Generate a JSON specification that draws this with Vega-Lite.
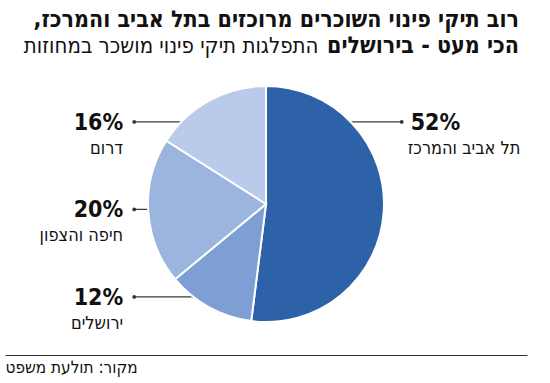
{
  "$schema": "https://vega.github.io/schema/vega-lite/v6.json",
  "autosize": "none",
  "width": 522,
  "height": 280,
  "padding": {"left": 5, "top": 64, "right": 23, "bottom": 39},
  "background": "white",
  "config": {"view": {"stroke": null}, "font": "DejaVu Sans Condensed"},
  "title": {
    "text": ["רוב תיקי פינוי השוכרים מרוכזים בתל אביב והמרכז,\u200f", "הכי מעט - בירושלים"],
    "anchor": "end",
    "frame": "group",
    "font": "DejaVu Sans Condensed",
    "fontSize": 23,
    "fontWeight": "bold",
    "color": "#111111",
    "lineHeight": 26,
    "offset": -24,
    "dx": -8
  },
  "data": {
    "values": [
      {"region": "תל אביב והמרכז", "share": 0.52},
      {"region": "ירושלים", "share": 0.12},
      {"region": "חיפה והצפון", "share": 0.20},
      {"region": "דרום", "share": 0.16}
    ]
  },
  "layer": [
    {
      "transform": [{"filter": {"not": {"field": "region", "equal": "תל אביב והמרכז"}}}],
      "mark": {"type": "rule", "color": "#3a3a3a", "strokeWidth": 1.3},
      "encoding": {
        "x": {
          "datum": -0.505,
          "type": "quantitative",
          "scale": {"domain": [-1, 1]},
          "axis": {
            "orient": "bottom",
            "offset": 11,
            "domain": true,
            "domainColor": "#333333",
            "domainWidth": 1.2,
            "ticks": false,
            "labels": false,
            "grid": false,
            "title": "מקור: תולעת משפט",
            "titleAnchor": "start",
            "titleAlign": "left",
            "titleFontWeight": "normal",
            "titleFontSize": 17,
            "titleColor": "#111111",
            "titlePadding": 4
          }
        },
        "x2": {"datum": 0},
        "y": {"field": "region", "type": "nominal", "scale": {"type": "point", "padding": 0.6, "align": 0.552}, "axis": null}
      }
    },
    {
      "transform": [{"filter": {"field": "region", "equal": "תל אביב והמרכז"}}],
      "mark": {"type": "rule", "color": "#3a3a3a", "strokeWidth": 1.3},
      "encoding": {
        "x": {
          "datum": 0,
          "type": "quantitative",
          "axis": {
            "orient": "top",
            "domain": false,
            "ticks": false,
            "labels": false,
            "grid": false,
            "title": "התפלגות תיקי פינוי מושכר במחוזות",
            "titleX": 313,
            "titleY": -12,
            "titleAlign": "right",
            "titleAnchor": "end",
            "titleBaseline": "alphabetic",
            "titleAngle": 0,
            "titleFontWeight": "normal",
            "titleFontSize": 22,
            "titleColor": "#111111"
          }
        },
        "x2": {"datum": 0.52},
        "y": {"field": "region", "type": "nominal", "scale": {"type": "point", "padding": 0.3, "align": 0.207}, "axis": null}
      }
    },
    {
      "mark": {"type": "arc", "outerRadius": 118, "stroke": "#ffffff", "strokeWidth": 2},
      "encoding": {
        "theta": {"field": "share", "type": "quantitative", "stack": true},
        "order": {"field": "region", "sort": "descending"},
        "color": {
          "field": "region",
          "type": "nominal",
          "scale": {
            "domain": ["תל אביב והמרכז", "ירושלים", "חיפה והצפון", "דרום"],
            "range": ["#2d62a8", "#7d9fd4", "#9bb5de", "#b8cbea"]
          },
          "legend": null
        }
      }
    },
    {
      "transform": [{"filter": {"not": {"field": "region", "equal": "תל אביב והמרכז"}}}],
      "mark": {"type": "point", "filled": true, "color": "#333333", "size": 14, "opacity": 1},
      "encoding": {
        "x": {"datum": -0.505, "type": "quantitative", "axis": null},
        "y": {"field": "region", "type": "nominal", "scale": {"type": "point", "padding": 0.6, "align": 0.552}, "axis": null}
      }
    },
    {
      "transform": [{"filter": {"field": "region", "equal": "תל אביב והמרכז"}}],
      "mark": {"type": "point", "filled": true, "color": "#333333", "size": 14, "opacity": 1},
      "encoding": {
        "x": {"datum": 0.52, "type": "quantitative", "axis": null},
        "y": {"field": "region", "type": "nominal", "scale": {"type": "point", "padding": 0.3, "align": 0.207}, "axis": null}
      }
    },
    {
      "transform": [{"filter": {"not": {"field": "region", "equal": "תל אביב והמרכז"}}}],
      "mark": {"type": "text", "align": "right", "baseline": "middle", "dx": -11, "dy": 1, "fontSize": 23, "fontWeight": "bold", "color": "#111111"},
      "encoding": {
        "x": {"datum": -0.505, "type": "quantitative", "axis": null},
        "y": {"field": "region", "type": "nominal", "scale": {"type": "point", "padding": 0.6, "align": 0.552}, "axis": null},
        "text": {"field": "share", "type": "quantitative", "format": ".0%"}
      }
    },
    {
      "transform": [{"filter": {"not": {"field": "region", "equal": "תל אביב והמרכז"}}}],
      "mark": {"type": "text", "align": "right", "baseline": "middle", "dx": -11, "dy": 27, "fontSize": 18, "color": "#111111"},
      "encoding": {
        "x": {"datum": -0.505, "type": "quantitative", "axis": null},
        "y": {"field": "region", "type": "nominal", "scale": {"type": "point", "padding": 0.6, "align": 0.552}, "axis": null},
        "text": {"field": "region", "type": "nominal"}
      }
    },
    {
      "transform": [{"filter": {"field": "region", "equal": "תל אביב והמרכז"}}],
      "mark": {"type": "text", "align": "left", "baseline": "middle", "dx": 9, "dy": 1, "fontSize": 23, "fontWeight": "bold", "color": "#111111"},
      "encoding": {
        "x": {"datum": 0.52, "type": "quantitative", "axis": null},
        "y": {"field": "region", "type": "nominal", "scale": {"type": "point", "padding": 0.3, "align": 0.207}, "axis": null},
        "text": {"field": "share", "type": "quantitative", "format": ".0%"}
      }
    },
    {
      "transform": [{"filter": {"field": "region", "equal": "תל אביב והמרכז"}}],
      "mark": {"type": "text", "align": "left", "baseline": "middle", "dx": 6, "dy": 27, "fontSize": 18, "color": "#111111"},
      "encoding": {
        "x": {"datum": 0.52, "type": "quantitative", "axis": null},
        "y": {"field": "region", "type": "nominal", "scale": {"type": "point", "padding": 0.3, "align": 0.207}, "axis": null},
        "text": {"field": "region", "type": "nominal"}
      }
    }
  ],
  "resolve": {"scale": {"y": "independent"}, "axis": {"x": "independent"}}
}
